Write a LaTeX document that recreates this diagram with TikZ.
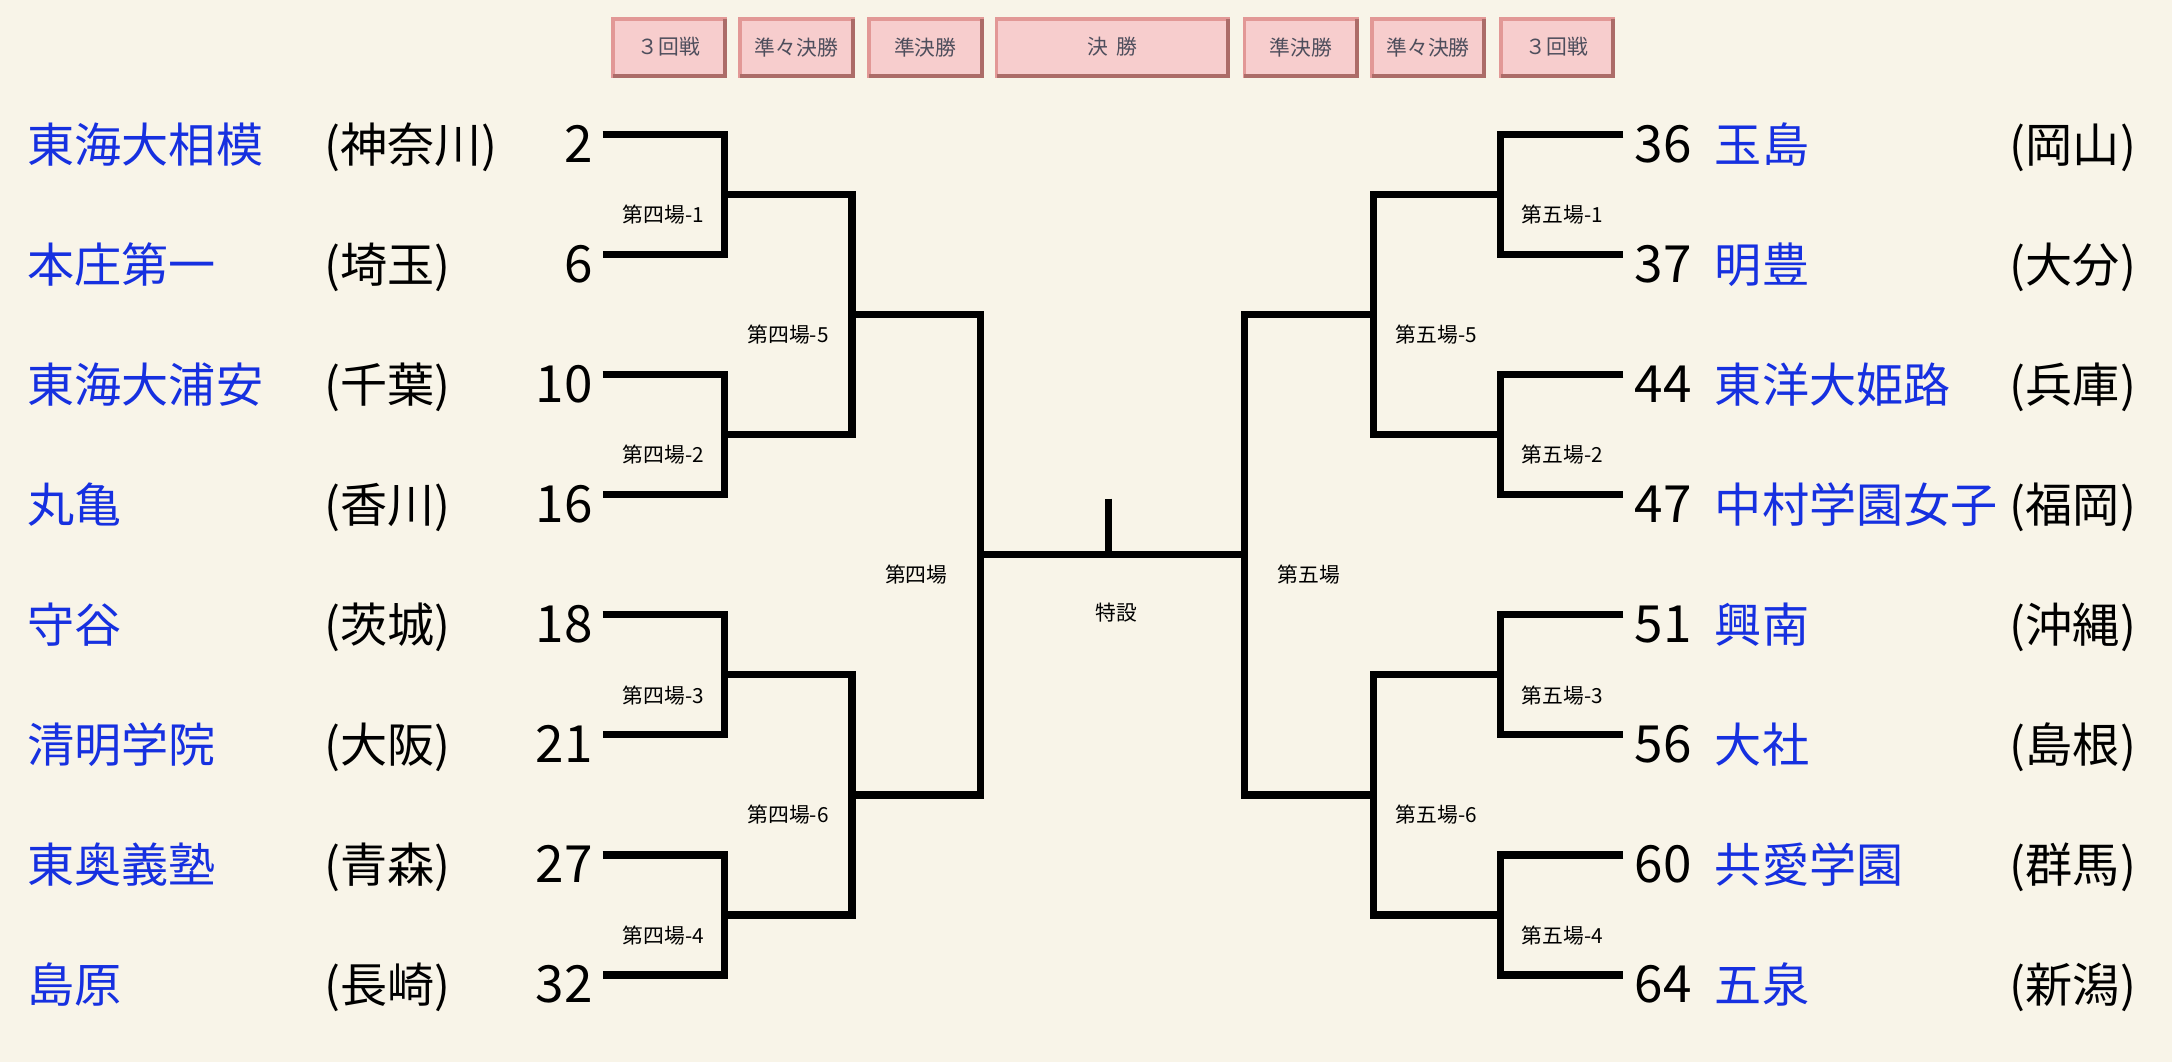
\documentclass[tikz,border=0pt]{standalone}
\usepackage{fontspec}
\setmainfont{Noto Sans CJK JP}
\definecolor{bg}{RGB}{248,244,232}
\definecolor{teamblue}{RGB}{22,48,224}
\definecolor{hdrfill}{RGB}{247,205,205}
\definecolor{hdrlight}{RGB}{226,152,150}
\definecolor{hdrdark}{RGB}{172,108,104}
\definecolor{hdrtext}{RGB}{78,78,92}
\begin{document}
\begin{tikzpicture}[x=1pt,y=-1pt,
  team/.style={text=teamblue, inner sep=0pt, outer sep=0pt, font=\fontsize{34}{34}\selectfont},
  pref/.style={inner sep=0pt, outer sep=0pt, font=\fontsize{34}{34}\selectfont},
  num/.style={inner sep=0pt, outer sep=0pt, font=\fontsize{37}{37}\selectfont},
  lbl/.style={inner sep=0pt, outer sep=0pt, font=\fontsize{15}{15}\selectfont},
  bk/.style={line width=5.2pt, line join=miter, line cap=butt},
  hdr/.style={rectangle, fill=hdrfill, draw=hdrlight, line width=2.8pt, inner sep=0pt, outer sep=0pt,
    minimum height=41.2pt, text=hdrtext, font=\fontsize{15}{15}\selectfont}]
\useasboundingbox[fill=bg] (0,0) rectangle (1568,766.7);

% header boxes
\foreach \n/\xa/\xb/\t in {h1/441/525/３回戦, h2/533/617/準々決勝, h3/626/710/準決勝, h4/718/888/決\hspace{0.4em}勝,
  h5/897/981/準決勝, h6/989/1073/準々決勝, h7/1082/1166/３回戦}{
  \pgfmathsetmacro{\cx}{(\xa+\xb)/2}
  \pgfmathsetmacro{\w}{\xb-\xa-2.8}
  \node[hdr, minimum width=\w pt] (\n) at (\cx,34) {\t};
  \draw[hdrdark, line width=2.8pt] (\n.south west) -- (\n.south east) -- (\n.north east);
}

% left teams
\foreach \i/\nm/\pf/\nu in {0/東海大相模/神奈川/2, 1/本庄第一/埼玉/6, 2/東海大浦安/千葉/10, 3/丸亀/香川/16,
  4/守谷/茨城/18, 5/清明学院/大阪/21, 6/東奥義塾/青森/27, 7/島原/長崎/32}{
  \pgfmathsetmacro{\yl}{97+86.7*\i}
  \pgfmathsetmacro{\yb}{\yl+20}
  \node[team, anchor=base west] (tl\i) at (20,\yb) {\nm};
  \node[pref, anchor=base west] (pl\i) at (234,\yb) {(\pf)};
  \node[num, anchor=base east] (nl\i) at (428,\yb) {\nu};
  \coordinate (al\i) at (435,\yl);
}
% right teams
\foreach \i/\nm/\pf/\nu in {0/玉島/岡山/36, 1/明豊/大分/37, 2/東洋大姫路/兵庫/44, 3/中村学園女子/福岡/47,
  4/興南/沖縄/51, 5/大社/島根/56, 6/共愛学園/群馬/60, 7/五泉/新潟/64}{
  \pgfmathsetmacro{\yl}{97+86.7*\i}
  \pgfmathsetmacro{\yb}{\yl+20}
  \node[num, anchor=base west] (nr\i) at (1180,\yb) {\nu};
  \node[team, anchor=base west] (tr\i) at (1238,\yb) {\nm};
  \node[pref, anchor=base east] (pr\i) at (1542,\yb) {(\pf)};
  \coordinate (ar\i) at (1172,\yl);
}

% first-round brackets, left and right
\foreach \k in {0,1,2,3}{
  \pgfmathtruncatemacro{\a}{2*\k}
  \pgfmathtruncatemacro{\b}{2*\k+1}
  \draw[bk] (al\a) -- (523,0 |- al\a) -- (523,0 |- al\b) -- (al\b);
  \draw[bk] (ar\a) -- (1083.5,0 |- ar\a) -- (1083.5,0 |- ar\b) -- (ar\b);
}
% later rounds, left
\coordinate (m1) at (523,140.35);  \coordinate (m2) at (523,313.75);
\coordinate (m3) at (523,487.15);  \coordinate (m4) at (523,660.55);
\coordinate (n1) at (615,227.05);  \coordinate (n2) at (615,573.85);
\coordinate (cL) at (708,400.45);  \coordinate (cR) at (898.5,400.45);
\coordinate (stubtop) at (800,360);
\coordinate (stubbot) at (800,400.45);
\draw[bk] (m1) -- (615,140.35) -- (615,313.75) -- (m2);
\draw[bk] (m3) -- (615,487.15) -- (615,660.55) -- (m4);
\draw[bk] (n1) -- (708,227.05) -- (708,573.85) -- (n2);
\draw[bk] (cL) -- (cR);
\draw[bk] (stubtop) -- (stubbot);
% later rounds, right
\coordinate (rm1) at (1083.5,140.35);  \coordinate (rm2) at (1083.5,313.75);
\coordinate (rm3) at (1083.5,487.15);  \coordinate (rm4) at (1083.5,660.55);
\coordinate (rn1) at (991.5,227.05);   \coordinate (rn2) at (991.5,573.85);
\draw[bk] (rm1) -- (991.5,140.35) -- (991.5,313.75) -- (rm2);
\draw[bk] (rm3) -- (991.5,487.15) -- (991.5,660.55) -- (rm4);
\draw[bk] (rn1) -- (898.5,227.05) -- (898.5,573.85) -- (rn2);

% match labels
\foreach \k/\y in {1/155, 2/328.4, 3/501.8, 4/675.2}{
  \node[lbl] (l4\k) at (479,\y) {第四場-\k};
  \node[lbl] (l5\k) at (1128,\y) {第五場-\k};
}
\node[lbl] (l45) at (569,241.5) {第四場-5};
\node[lbl] (l46) at (569,588.3) {第四場-6};
\node[lbl] (l55) at (1037,241.5) {第五場-5};
\node[lbl] (l56) at (1037,588.3) {第五場-6};
\node[lbl] (l4) at (661.5,414.5) {第四場};
\node[lbl] (l5) at (945,414.5) {第五場};
\node[lbl] (tokusetsu) at (806,442) {特設};
\end{tikzpicture}
\end{document}
